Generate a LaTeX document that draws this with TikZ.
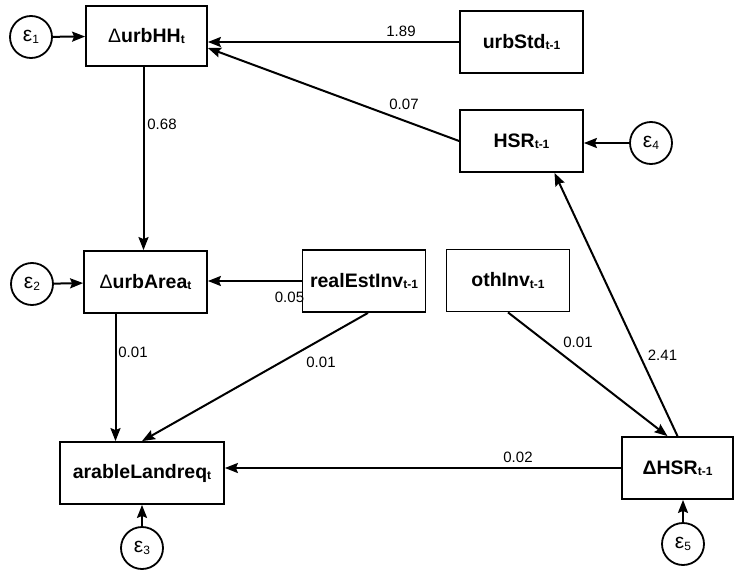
\documentclass[tikz,border=0pt]{standalone}
\usepackage{fontspec}
\setmainfont{Liberation Sans}
\usetikzlibrary{arrows.meta}
\newcommand{\sbx}[1]{\raisebox{-1.2pt}{\fontsize{12}{12}\selectfont #1}}
\newcommand{\epsl}[1]{ε\raisebox{-2pt}{\fontsize{12}{12}\selectfont #1}}
\begin{document}
\begin{tikzpicture}[x=1pt,y=-1pt,
 box/.style={draw,line width=1.8pt,rectangle,minimum width=123pt,minimum height=62pt,inner sep=0pt,font=\fontsize{19.5}{20}\selectfont\bfseries},
 err/.style={draw,line width=1.8pt,circle,minimum size=42pt,inner sep=0pt,font=\fontsize{21}{21}\selectfont},
 arr/.style={line width=2pt,-{Stealth[length=13pt,width=10pt,inset=2pt]}},
 lab/.style={font=\fontsize{15}{15}\selectfont,inner sep=0pt}]
\useasboundingbox (0,0) rectangle (734,570);
% boxes
\node[box,minimum width=121pt,minimum height=60pt] (hh) at (146.5,36) {{\mdseries Δ}urbHH\sbx{t}};
\node[box] (std) at (521.5,42) {urbStd\sbx{t-1}};
\node[box] (hsr) at (521.5,141) {HSR\sbx{t-1}};
\node[box] (area) at (145.5,282) {{\mdseries Δ}urbArea\sbx{t}};
\node[box] (rei) at (364,281) {realEstInv\sbx{t-1}};
\node[box] (oth) at (508,280.5) {othInv\sbx{t-1}};
\node[box,minimum width=164pt] (ara) at (142,473) {arableLandreq\sbx{t}};
\node[box,minimum width=111pt] (dhsr) at (677.5,468) {ΔHSR\sbx{t-1}};
% error terms
\node[err] (e1) at (31,37) {\epsl{1}};
\node[err] (e2) at (32,284) {\epsl{2}};
\node[err] (e3) at (142,548) {\epsl{3}};
\node[err] (e4) at (651,143) {\epsl{4}};
\node[err] (e5) at (683,544) {\epsl{5}};
% connectors
\draw[arr] (e1) -- (hh);
\draw[arr] (e2) -- (area);
\draw[arr] (e3) -- (ara);
\draw[arr] (e4.west) -- (e4.west -| hsr.east);
\draw[arr] (e5.north) -- (e5.north |- dhsr.south);
\draw[arr] (std.west) -- (std.west -| hh.east);
\draw[arr] (hsr.west) -- ([yshift=-12pt]hh.east);
\draw[arr] ([xshift=-3pt]hh.south) -- ([xshift=-3pt]hh.south |- area.north);
\draw[arr] (rei.west) -- (rei.west -| area.east);
\draw[arr] ([xshift=-30pt]area.south) -- ([xshift=-30pt]area.south |- ara.north);
\draw[arr] ([xshift=4pt]rei.south) -- (ara.north);
\draw[arr] (oth.south) -- ([xshift=-10pt]dhsr.north);
\draw[arr] (dhsr.north) -- ([xshift=33pt]hsr.south);
\draw[arr] (dhsr.west) -- (dhsr.west -| ara.east);
% labels
\node[lab] (l189) at (401,31) {1.89};
\node[lab] (l007) at (404,104) {0.07};
\node[lab] (l068) at (162,124) {0.68};
\node[lab] (l005) at (289.5,297.5) {0.05};
\node[lab] (l001a) at (133,352.5) {0.01};
\node[lab] (l001b) at (321,362.5) {0.01};
\node[lab] (l001c) at (578,342.5) {0.01};
\node[lab] (l241) at (662.5,355.5) {2.41};
\node[lab] (l002) at (518,457.5) {0.02};
\end{tikzpicture}
\end{document}
